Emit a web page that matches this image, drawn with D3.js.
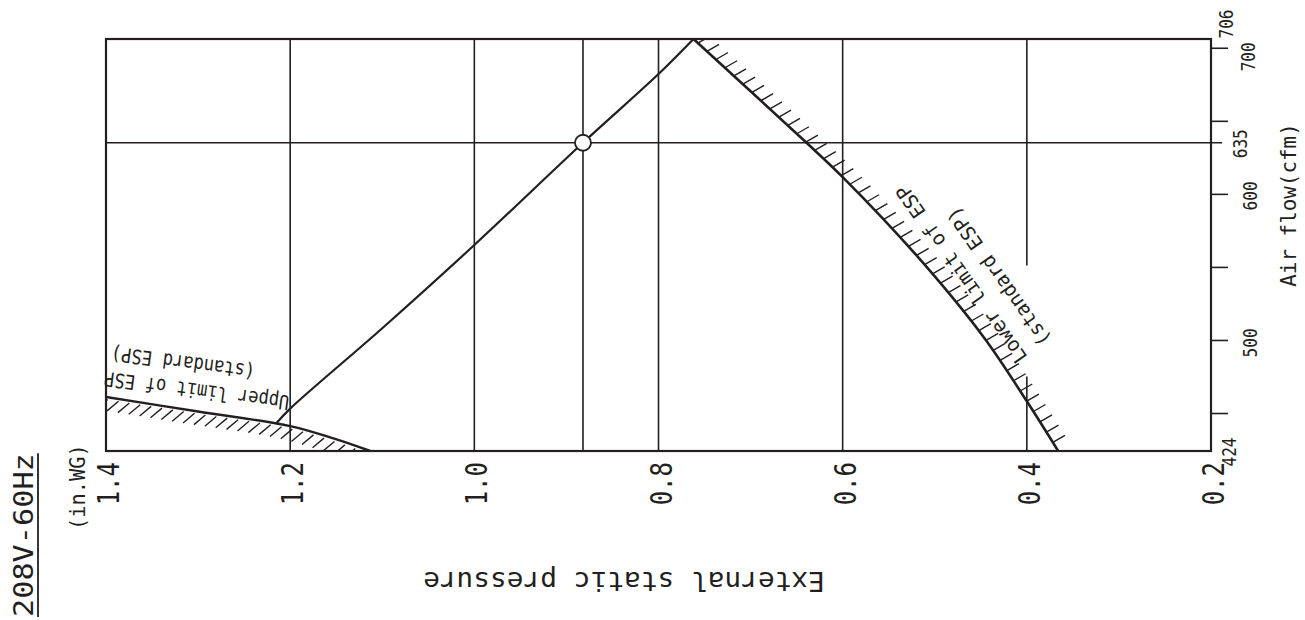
<!DOCTYPE html>
<html>
<head>
<meta charset="utf-8">
<script src="https://cdn.jsdelivr.net/npm/d3@7"></script>
<style>
  body { margin: 0; background: #fff; }
  text { font-family: "DejaVu Sans Mono", monospace; fill: #231f20; }
</style>
</head>
<body>
<svg id="chart" width="1305" height="620"></svg>
<script>
// axes
const espTicks = [1.4, 1.2, 1.0, 0.8, 0.6, 0.4, 0.2];
const flowTickMarks = [450, 500, 550, 600, 650, 700];
const flowLabels = [706, 700, 635, 600, 500, 424];

// fan curve (ESP in.WG, air flow cfm)
const fanEsp = [1.215, 1.2, 1.1, 1.0, 0.882, 0.8, 0.762];
const fanFlow = [443, 453, 508, 565, 635, 682, 706];

// upper limit of ESP
const upperEsp = [1.4, 1.3, 1.2, 1.153, 1.113];
const upperFlow = [461, 451, 441, 432.6, 424];

// lower limit of ESP
const lowerEsp = [0.762, 0.641, 0.6, 0.52, 0.447, 0.4, 0.366];
const lowerFlow = [706, 636, 611.5, 558, 502, 458, 424];

// rated point
const ratedEsp = 0.882;
const ratedFlow = 635;

const ink = "#231f20";
const svg = d3.select("#chart");
svg.append("rect").attr("width", 1305).attr("height", 620).attr("fill", "#fff");

const x = d3.scaleLinear().domain([1.4, 0.2]).range([106, 1211]);
const y = d3.scaleLinear().domain([424, 706]).range([451, 39]);

function rotText(parent, tx, ty, angle, str, size, sx, anchor) {
    return parent.append("text")
        .attr("transform", `translate(${tx},${ty}) rotate(${angle}) scale(${sx},1)`)
        .attr("font-size", size)
        .attr("text-anchor", anchor || "start")
        .text(str);
}

svg.append("clipPath").attr("id", "plotClip")
    .append("rect")
    .attr("x", x(1.4)).attr("y", y(706))
    .attr("width", x(0.2) - x(1.4)).attr("height", y(424) - y(706));

// grid
const grid = svg.append("g").attr("stroke", ink).attr("stroke-width", 1.6);
const gapFlow = [475, 551]; // break in the 0.4 line for the label
espTicks.slice(1, -1).concat([ratedEsp]).forEach(v => {
    if (v === 0.4) {
        grid.append("line").attr("x1", x(v)).attr("x2", x(v)).attr("y1", y(706)).attr("y2", y(gapFlow[1]));
        grid.append("line").attr("x1", x(v)).attr("x2", x(v)).attr("y1", y(gapFlow[0])).attr("y2", y(424));
    } else {
        grid.append("line").attr("x1", x(v)).attr("x2", x(v)).attr("y1", y(706)).attr("y2", y(424));
    }
});
grid.append("line").attr("x1", x(1.4)).attr("x2", x(0.2) + 11).attr("y1", y(ratedFlow)).attr("y2", y(ratedFlow));

// right axis tick marks
svg.append("g")
    .attr("transform", `translate(${x(0.2)},0)`)
    .call(d3.axisRight(y).tickValues(flowTickMarks).tickSize(17).tickFormat(""))
    .call(g => g.select(".domain").remove())
    .selectAll("line").attr("stroke", ink).attr("stroke-width", 1.6);

// frame
svg.append("rect")
    .attr("x", x(1.4)).attr("y", y(706))
    .attr("width", x(0.2) - x(1.4)).attr("height", y(424) - y(706))
    .attr("fill", "none").attr("stroke", ink).attr("stroke-width", 2.2);

const plot = svg.append("g").attr("clip-path", "url(#plotClip)");
const line = d3.line().x(d => x(d[0])).y(d => y(d[1])).curve(d3.curveCatmullRom.alpha(0.5));

function hatch(path, step, start, dir, len, gap) {
    const node = path.node();
    const total = node.getTotalLength();
    const g = plot.append("g").attr("stroke", ink).attr("stroke-width", 1.4);
    for (let s = start; s <= total; s += step) {
        const p = node.getPointAtLength(s);
        g.append("line")
            .attr("x1", p.x + dir[0] * gap).attr("y1", p.y + dir[1] * gap)
            .attr("x2", p.x + dir[0] * (gap + len)).attr("y2", p.y + dir[1] * (gap + len));
    }
}

const upperPath = plot.append("path")
    .datum(d3.zip(upperEsp, upperFlow))
    .attr("d", line).attr("fill", "none").attr("stroke", ink).attr("stroke-width", 2.4);
hatch(upperPath, 11, 4, [-0.766, 0.643], 15, 3);

const lowerPath = plot.append("path")
    .datum(d3.zip(lowerEsp, lowerFlow))
    .attr("d", line).attr("fill", "none").attr("stroke", ink).attr("stroke-width", 2.6);
hatch(lowerPath, 12.2, 6, [0.866, -0.5], 14, 0);

plot.append("path")
    .datum(d3.zip(fanEsp, fanFlow))
    .attr("d", line).attr("fill", "none").attr("stroke", ink).attr("stroke-width", 2.2);

svg.append("circle")
    .attr("cx", x(ratedEsp)).attr("cy", y(ratedFlow)).attr("r", 8)
    .attr("fill", "#fff").attr("stroke", ink).attr("stroke-width", 1.8);

// ESP tick labels
espTicks.forEach(v => rotText(svg, x(v) + 13, 462, -90, d3.format(".1f")(v), 30, 0.8, "end"));

// air flow labels: baseline x and shift along the axis
const flowLabelPos = {706: [1233, -15], 700: [1255, 9], 635: [1247, 1], 600: [1257, 2], 500: [1257, 3], 424: [1236, 1]};
flowLabels.forEach(v => {
    const [bx, dy] = flowLabelPos[v];
    rotText(svg, bx, y(v) + dy, -90, String(v), 19, 0.85, "middle");
});

rotText(svg, 1296, 205, -90, "Air flow(cfm)", 22, 0.95, "middle");
rotText(svg, 85, 530, -90, "(in.WG)", 21, 0.97, "start");
rotText(svg, 624, 572, 180, "External static pressure", 26, 1.07, "middle");

// supply label with underline
const supply = svg.append("g").attr("transform", "translate(33,617) rotate(-90) scale(1.12,1)");
const supplyText = supply.append("text").attr("font-size", 27).text("208V-60Hz");
supply.append("line")
    .attr("x1", 0).attr("x2", supplyText.node().getComputedTextLength())
    .attr("y1", 5).attr("y2", 5)
    .attr("stroke", ink).attr("stroke-width", 1.8);

// curve labels
const upLab = svg.append("g").attr("transform", "translate(290,396) rotate(-172.5) scale(0.86,1)")
    .append("text").attr("font-size", 20);
upLab.append("tspan").attr("x", 0).attr("dy", 0).text("Upper limit of ESP");
upLab.append("tspan").attr("x", 38 / 0.86).attr("dy", 26).text("(standard ESP)");

const lowLab = svg.append("g").attr("transform", "translate(1028,357) rotate(-125) scale(0.98,1)")
    .append("text").attr("font-size", 20);
lowLab.append("tspan").attr("x", 0).attr("dy", 0).text("Lower limit of ESP");
lowLab.append("tspan").attr("x", 0).attr("dy", 29).text("(standard ESP)");
</script>
</body>
</html>
